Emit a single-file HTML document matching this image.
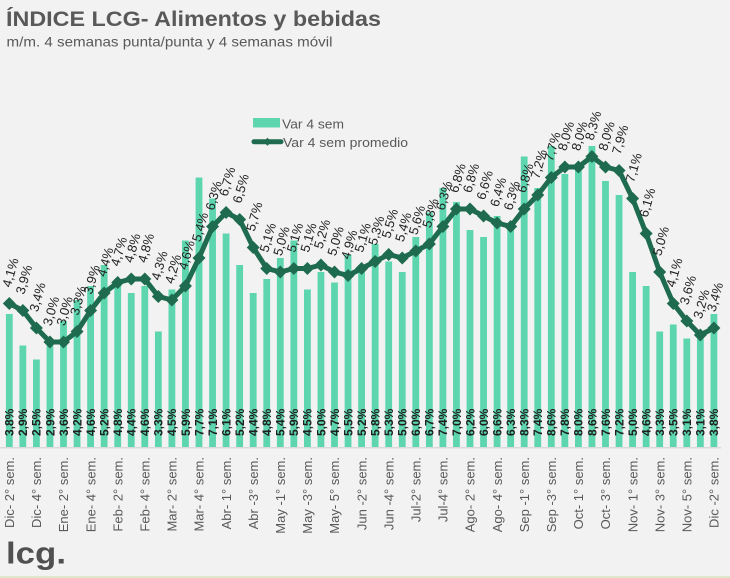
<!DOCTYPE html>
<html><head><meta charset="utf-8"><style>
html,body{margin:0;padding:0;background:#f2f2f2;}
svg{display:block;font-family:"Liberation Sans",sans-serif;}
</style></head><body>
<svg width="730" height="578" viewBox="0 0 730 578" xmlns="http://www.w3.org/2000/svg">
<defs><polygon id="dm" points="0,-6.5 6.5,0 0,6.5 -6.5,0" fill="#1e6b4f"/></defs>
<rect x="0" y="0" width="730" height="578" fill="#f2f2f2"/>
<rect x="0" y="576" width="730" height="2" fill="#dfe7cb"/>
<text x="6" y="26" font-size="21" font-weight="bold" fill="#595959" textLength="375" lengthAdjust="spacingAndGlyphs">ÍNDICE LCG- Alimentos y bebidas</text>
<text x="6.5" y="46.7" font-size="14" fill="#595959" textLength="326" lengthAdjust="spacingAndGlyphs">m/m. 4 semanas punta/punta y 4 semanas móvil</text>
<g fill="#5dd5ae">
<rect x="5.9" y="314" width="6.8" height="133"/>
<rect x="19.45" y="345.5" width="6.8" height="101.5"/>
<rect x="33" y="359.5" width="6.8" height="87.5"/>
<rect x="46.55" y="345.5" width="6.8" height="101.5"/>
<rect x="60.1" y="321" width="6.8" height="126"/>
<rect x="73.65" y="300" width="6.8" height="147"/>
<rect x="87.2" y="286" width="6.8" height="161"/>
<rect x="100.75" y="265" width="6.8" height="182"/>
<rect x="114.3" y="279" width="6.8" height="168"/>
<rect x="127.85" y="293" width="6.8" height="154"/>
<rect x="141.4" y="286" width="6.8" height="161"/>
<rect x="154.95" y="331.5" width="6.8" height="115.5"/>
<rect x="168.5" y="289.5" width="6.8" height="157.5"/>
<rect x="182.05" y="240.5" width="6.8" height="206.5"/>
<rect x="195.6" y="177.5" width="6.8" height="269.5"/>
<rect x="209.15" y="198.5" width="6.8" height="248.5"/>
<rect x="222.7" y="233.5" width="6.8" height="213.5"/>
<rect x="236.25" y="265" width="6.8" height="182"/>
<rect x="249.8" y="293" width="6.8" height="154"/>
<rect x="263.35" y="279" width="6.8" height="168"/>
<rect x="276.9" y="258" width="6.8" height="189"/>
<rect x="290.45" y="240.5" width="6.8" height="206.5"/>
<rect x="304" y="289.5" width="6.8" height="157.5"/>
<rect x="317.55" y="272" width="6.8" height="175"/>
<rect x="331.1" y="282.5" width="6.8" height="164.5"/>
<rect x="344.65" y="254.5" width="6.8" height="192.5"/>
<rect x="358.2" y="265" width="6.8" height="182"/>
<rect x="371.75" y="244" width="6.8" height="203"/>
<rect x="385.3" y="261.5" width="6.8" height="185.5"/>
<rect x="398.85" y="272" width="6.8" height="175"/>
<rect x="412.4" y="237" width="6.8" height="210"/>
<rect x="425.95" y="212.5" width="6.8" height="234.5"/>
<rect x="439.5" y="188" width="6.8" height="259"/>
<rect x="453.05" y="202" width="6.8" height="245"/>
<rect x="466.6" y="230" width="6.8" height="217"/>
<rect x="480.15" y="237" width="6.8" height="210"/>
<rect x="493.7" y="216" width="6.8" height="231"/>
<rect x="507.25" y="226.5" width="6.8" height="220.5"/>
<rect x="520.8" y="156.5" width="6.8" height="290.5"/>
<rect x="534.35" y="188" width="6.8" height="259"/>
<rect x="547.9" y="146" width="6.8" height="301"/>
<rect x="561.45" y="174" width="6.8" height="273"/>
<rect x="575" y="167" width="6.8" height="280"/>
<rect x="588.55" y="146" width="6.8" height="301"/>
<rect x="602.1" y="181" width="6.8" height="266"/>
<rect x="615.65" y="195" width="6.8" height="252"/>
<rect x="629.2" y="272" width="6.8" height="175"/>
<rect x="642.75" y="286" width="6.8" height="161"/>
<rect x="656.3" y="331.5" width="6.8" height="115.5"/>
<rect x="669.85" y="324.5" width="6.8" height="122.5"/>
<rect x="683.4" y="338.5" width="6.8" height="108.5"/>
<rect x="696.95" y="338.5" width="6.8" height="108.5"/>
<rect x="710.5" y="314" width="6.8" height="133"/>
</g>
<line x1="0" y1="447.8" x2="721" y2="447.8" stroke="#d9d9d9" stroke-width="1.5"/>
<polyline fill="none" stroke="#1e6b4f" stroke-width="5" stroke-linejoin="round" points="9.3,303.5 22.85,310.5 36.4,328 49.95,342 63.5,342 77.05,331.5 90.6,310.5 104.15,293 117.7,282.5 131.25,279 144.8,279 158.35,296.5 171.9,300 185.45,286 199,258 212.55,226.5 226.1,212.5 239.65,219.5 253.2,247.5 266.75,268.5 280.3,272 293.85,268.5 307.4,268.5 320.95,265 334.5,272 348.05,275.5 361.6,268.5 375.15,261.5 388.7,254.5 402.25,258 415.8,251 429.35,244 442.9,226.5 456.45,209 470,209 483.55,216 497.1,223 510.65,226.5 524.2,209 537.75,195 551.3,177.5 564.85,167 578.4,167 591.95,156.5 605.5,167 619.05,170.5 632.6,198.5 646.15,233.5 659.7,272 673.25,303.5 686.8,321 700.35,335 713.9,328"/>
<g>
<use href="#dm" x="9.3" y="303.5"/><use href="#dm" x="22.85" y="310.5"/><use href="#dm" x="36.4" y="328"/><use href="#dm" x="49.95" y="342"/><use href="#dm" x="63.5" y="342"/><use href="#dm" x="77.05" y="331.5"/><use href="#dm" x="90.6" y="310.5"/><use href="#dm" x="104.15" y="293"/><use href="#dm" x="117.7" y="282.5"/><use href="#dm" x="131.25" y="279"/><use href="#dm" x="144.8" y="279"/><use href="#dm" x="158.35" y="296.5"/><use href="#dm" x="171.9" y="300"/><use href="#dm" x="185.45" y="286"/><use href="#dm" x="199" y="258"/><use href="#dm" x="212.55" y="226.5"/><use href="#dm" x="226.1" y="212.5"/><use href="#dm" x="239.65" y="219.5"/><use href="#dm" x="253.2" y="247.5"/><use href="#dm" x="266.75" y="268.5"/><use href="#dm" x="280.3" y="272"/><use href="#dm" x="293.85" y="268.5"/><use href="#dm" x="307.4" y="268.5"/><use href="#dm" x="320.95" y="265"/><use href="#dm" x="334.5" y="272"/><use href="#dm" x="348.05" y="275.5"/><use href="#dm" x="361.6" y="268.5"/><use href="#dm" x="375.15" y="261.5"/><use href="#dm" x="388.7" y="254.5"/><use href="#dm" x="402.25" y="258"/><use href="#dm" x="415.8" y="251"/><use href="#dm" x="429.35" y="244"/><use href="#dm" x="442.9" y="226.5"/><use href="#dm" x="456.45" y="209"/><use href="#dm" x="470" y="209"/><use href="#dm" x="483.55" y="216"/><use href="#dm" x="497.1" y="223"/><use href="#dm" x="510.65" y="226.5"/><use href="#dm" x="524.2" y="209"/><use href="#dm" x="537.75" y="195"/><use href="#dm" x="551.3" y="177.5"/><use href="#dm" x="564.85" y="167"/><use href="#dm" x="578.4" y="167"/><use href="#dm" x="591.95" y="156.5"/><use href="#dm" x="605.5" y="167"/><use href="#dm" x="619.05" y="170.5"/><use href="#dm" x="632.6" y="198.5"/><use href="#dm" x="646.15" y="233.5"/><use href="#dm" x="659.7" y="272"/><use href="#dm" x="673.25" y="303.5"/><use href="#dm" x="686.8" y="321"/><use href="#dm" x="700.35" y="335"/><use href="#dm" x="713.9" y="328"/>
</g>
<g font-size="13" fill="#222" text-anchor="middle">
<text transform="translate(10.3,272.5) rotate(-74)" dy="0.35em">4,1%</text>
<text transform="translate(23.85,279.5) rotate(-74)" dy="0.35em">3,9%</text>
<text transform="translate(37.4,297) rotate(-74)" dy="0.35em">3,4%</text>
<text transform="translate(50.95,311) rotate(-74)" dy="0.35em">3,0%</text>
<text transform="translate(64.5,311) rotate(-74)" dy="0.35em">3,0%</text>
<text transform="translate(78.05,300.5) rotate(-74)" dy="0.35em">3,3%</text>
<text transform="translate(91.6,279.5) rotate(-74)" dy="0.35em">3,9%</text>
<text transform="translate(105.15,262) rotate(-74)" dy="0.35em">4,4%</text>
<text transform="translate(118.7,251.5) rotate(-74)" dy="0.35em">4,7%</text>
<text transform="translate(132.25,248) rotate(-74)" dy="0.35em">4,8%</text>
<text transform="translate(145.8,248) rotate(-74)" dy="0.35em">4,8%</text>
<text transform="translate(159.35,265.5) rotate(-74)" dy="0.35em">4,3%</text>
<text transform="translate(172.9,269) rotate(-74)" dy="0.35em">4,2%</text>
<text transform="translate(186.45,255) rotate(-74)" dy="0.35em">4,6%</text>
<text transform="translate(200,227) rotate(-74)" dy="0.35em">5,4%</text>
<text transform="translate(213.55,195.5) rotate(-74)" dy="0.35em">6,3%</text>
<text transform="translate(227.1,181.5) rotate(-74)" dy="0.35em">6,7%</text>
<text transform="translate(240.65,188.5) rotate(-74)" dy="0.35em">6,5%</text>
<text transform="translate(254.2,216.5) rotate(-74)" dy="0.35em">5,7%</text>
<text transform="translate(267.75,237.5) rotate(-74)" dy="0.35em">5,1%</text>
<text transform="translate(281.3,241) rotate(-74)" dy="0.35em">5,0%</text>
<text transform="translate(294.85,237.5) rotate(-74)" dy="0.35em">5,1%</text>
<text transform="translate(308.4,237.5) rotate(-74)" dy="0.35em">5,1%</text>
<text transform="translate(321.95,234) rotate(-74)" dy="0.35em">5,2%</text>
<text transform="translate(335.5,241) rotate(-74)" dy="0.35em">5,0%</text>
<text transform="translate(349.05,244.5) rotate(-74)" dy="0.35em">4,9%</text>
<text transform="translate(362.6,237.5) rotate(-74)" dy="0.35em">5,1%</text>
<text transform="translate(376.15,230.5) rotate(-74)" dy="0.35em">5,3%</text>
<text transform="translate(389.7,223.5) rotate(-74)" dy="0.35em">5,5%</text>
<text transform="translate(403.25,227) rotate(-74)" dy="0.35em">5,4%</text>
<text transform="translate(416.8,220) rotate(-74)" dy="0.35em">5,6%</text>
<text transform="translate(430.35,213) rotate(-74)" dy="0.35em">5,8%</text>
<text transform="translate(443.9,195.5) rotate(-74)" dy="0.35em">6,3%</text>
<text transform="translate(457.45,178) rotate(-74)" dy="0.35em">6,8%</text>
<text transform="translate(471,178) rotate(-74)" dy="0.35em">6,8%</text>
<text transform="translate(484.55,185) rotate(-74)" dy="0.35em">6,6%</text>
<text transform="translate(498.1,192) rotate(-74)" dy="0.35em">6,4%</text>
<text transform="translate(511.65,195.5) rotate(-74)" dy="0.35em">6,3%</text>
<text transform="translate(525.2,178) rotate(-74)" dy="0.35em">6,8%</text>
<text transform="translate(538.75,164) rotate(-74)" dy="0.35em">7,2%</text>
<text transform="translate(552.3,146.5) rotate(-74)" dy="0.35em">7,7%</text>
<text transform="translate(565.85,136) rotate(-74)" dy="0.35em">8,0%</text>
<text transform="translate(579.4,136) rotate(-74)" dy="0.35em">8,0%</text>
<text transform="translate(592.95,125.5) rotate(-74)" dy="0.35em">8,3%</text>
<text transform="translate(606.5,136) rotate(-74)" dy="0.35em">8,0%</text>
<text transform="translate(620.05,139.5) rotate(-74)" dy="0.35em">7,9%</text>
<text transform="translate(633.6,167.5) rotate(-74)" dy="0.35em">7,1%</text>
<text transform="translate(647.15,202.5) rotate(-74)" dy="0.35em">6,1%</text>
<text transform="translate(660.7,241) rotate(-74)" dy="0.35em">5,0%</text>
<text transform="translate(674.25,272.5) rotate(-74)" dy="0.35em">4,1%</text>
<text transform="translate(687.8,290) rotate(-74)" dy="0.35em">3,6%</text>
<text transform="translate(701.35,304) rotate(-74)" dy="0.35em">3,2%</text>
<text transform="translate(714.9,297) rotate(-74)" dy="0.35em">3,4%</text>
</g>
<g font-size="12" font-weight="bold" fill="#1f1f1f">
<text transform="translate(13.6,436) rotate(-90)">3,8%</text>
<text transform="translate(27.15,436) rotate(-90)">2,9%</text>
<text transform="translate(40.7,436) rotate(-90)">2,5%</text>
<text transform="translate(54.25,436) rotate(-90)">2,9%</text>
<text transform="translate(67.8,436) rotate(-90)">3,6%</text>
<text transform="translate(81.35,436) rotate(-90)">4,2%</text>
<text transform="translate(94.9,436) rotate(-90)">4,6%</text>
<text transform="translate(108.45,436) rotate(-90)">5,2%</text>
<text transform="translate(122,436) rotate(-90)">4,8%</text>
<text transform="translate(135.55,436) rotate(-90)">4,4%</text>
<text transform="translate(149.1,436) rotate(-90)">4,6%</text>
<text transform="translate(162.65,436) rotate(-90)">3,3%</text>
<text transform="translate(176.2,436) rotate(-90)">4,5%</text>
<text transform="translate(189.75,436) rotate(-90)">5,9%</text>
<text transform="translate(203.3,436) rotate(-90)">7,7%</text>
<text transform="translate(216.85,436) rotate(-90)">7,1%</text>
<text transform="translate(230.4,436) rotate(-90)">6,1%</text>
<text transform="translate(243.95,436) rotate(-90)">5,2%</text>
<text transform="translate(257.5,436) rotate(-90)">4,4%</text>
<text transform="translate(271.05,436) rotate(-90)">4,8%</text>
<text transform="translate(284.6,436) rotate(-90)">5,4%</text>
<text transform="translate(298.15,436) rotate(-90)">5,9%</text>
<text transform="translate(311.7,436) rotate(-90)">4,5%</text>
<text transform="translate(325.25,436) rotate(-90)">5,0%</text>
<text transform="translate(338.8,436) rotate(-90)">4,7%</text>
<text transform="translate(352.35,436) rotate(-90)">5,5%</text>
<text transform="translate(365.9,436) rotate(-90)">5,2%</text>
<text transform="translate(379.45,436) rotate(-90)">5,8%</text>
<text transform="translate(393,436) rotate(-90)">5,3%</text>
<text transform="translate(406.55,436) rotate(-90)">5,0%</text>
<text transform="translate(420.1,436) rotate(-90)">6,0%</text>
<text transform="translate(433.65,436) rotate(-90)">6,7%</text>
<text transform="translate(447.2,436) rotate(-90)">7,4%</text>
<text transform="translate(460.75,436) rotate(-90)">7,0%</text>
<text transform="translate(474.3,436) rotate(-90)">6,2%</text>
<text transform="translate(487.85,436) rotate(-90)">6,0%</text>
<text transform="translate(501.4,436) rotate(-90)">6,6%</text>
<text transform="translate(514.95,436) rotate(-90)">6,3%</text>
<text transform="translate(528.5,436) rotate(-90)">8,3%</text>
<text transform="translate(542.05,436) rotate(-90)">7,4%</text>
<text transform="translate(555.6,436) rotate(-90)">8,6%</text>
<text transform="translate(569.15,436) rotate(-90)">7,8%</text>
<text transform="translate(582.7,436) rotate(-90)">8,0%</text>
<text transform="translate(596.25,436) rotate(-90)">8,6%</text>
<text transform="translate(609.8,436) rotate(-90)">7,6%</text>
<text transform="translate(623.35,436) rotate(-90)">7,2%</text>
<text transform="translate(636.9,436) rotate(-90)">5,0%</text>
<text transform="translate(650.45,436) rotate(-90)">4,6%</text>
<text transform="translate(664,436) rotate(-90)">3,3%</text>
<text transform="translate(677.55,436) rotate(-90)">3,5%</text>
<text transform="translate(691.1,436) rotate(-90)">3,1%</text>
<text transform="translate(704.65,436) rotate(-90)">3,1%</text>
<text transform="translate(718.2,436) rotate(-90)">3,8%</text>
</g>
<g font-size="13" fill="#595959" text-anchor="end">
<text transform="translate(14,457) rotate(-90)">Dic- 2° sem.</text>
<text transform="translate(41.1,457) rotate(-90)">Dic- 4° sem.</text>
<text transform="translate(68.2,457) rotate(-90)">Ene- 2° sem.</text>
<text transform="translate(95.3,457) rotate(-90)">Ene- 4° sem.</text>
<text transform="translate(122.4,457) rotate(-90)">Feb- 2° sem.</text>
<text transform="translate(149.5,457) rotate(-90)">Feb- 4° sem.</text>
<text transform="translate(176.6,457) rotate(-90)">Mar- 2° sem.</text>
<text transform="translate(203.7,457) rotate(-90)">Mar- 4° sem.</text>
<text transform="translate(230.8,457) rotate(-90)">Abr- 1° sem.</text>
<text transform="translate(257.9,457) rotate(-90)">Abr -3° sem.</text>
<text transform="translate(285,457) rotate(-90)">May -1° sem.</text>
<text transform="translate(312.1,457) rotate(-90)">May -3° sem.</text>
<text transform="translate(339.2,457) rotate(-90)">May- 5° sem.</text>
<text transform="translate(366.3,457) rotate(-90)">Jun -2° sem.</text>
<text transform="translate(393.4,457) rotate(-90)">Jun -4° sem.</text>
<text transform="translate(420.5,457) rotate(-90)">Jul-2° sem.</text>
<text transform="translate(447.6,457) rotate(-90)">Jul-4° sem.</text>
<text transform="translate(474.7,457) rotate(-90)">Ago- 2° sem.</text>
<text transform="translate(501.8,457) rotate(-90)">Ago- 4° sem.</text>
<text transform="translate(528.9,457) rotate(-90)">Sep -1° sem.</text>
<text transform="translate(556,457) rotate(-90)">Sep -3° sem.</text>
<text transform="translate(583.1,457) rotate(-90)">Oct- 1° sem.</text>
<text transform="translate(610.2,457) rotate(-90)">Oct- 3° sem.</text>
<text transform="translate(637.3,457) rotate(-90)">Nov- 1° sem.</text>
<text transform="translate(664.4,457) rotate(-90)">Nov- 3° sem.</text>
<text transform="translate(691.5,457) rotate(-90)">Nov- 5° sem.</text>
<text transform="translate(718.6,457) rotate(-90)">Dic -2° sem.</text>
</g>
<rect x="253" y="118" width="27" height="9.5" fill="#5dd5ae"/>
<text x="282" y="128.3" font-size="13" fill="#595959" textLength="62" lengthAdjust="spacingAndGlyphs">Var 4 sem</text>
<line x1="254" y1="141.7" x2="281" y2="141.7" stroke="#1e6b4f" stroke-width="5" stroke-linecap="round"/>
<polygon points="267.5,137.7 271.5,141.7 267.5,145.7 263.5,141.7" fill="#1e6b4f"/>
<text x="283" y="147" font-size="13" fill="#595959" textLength="125" lengthAdjust="spacingAndGlyphs">Var 4 sem promedio</text>
<text x="6" y="563.5" font-size="31" font-weight="bold" fill="#505050" textLength="60" lengthAdjust="spacingAndGlyphs">lcg.</text>
</svg>
</body></html>
